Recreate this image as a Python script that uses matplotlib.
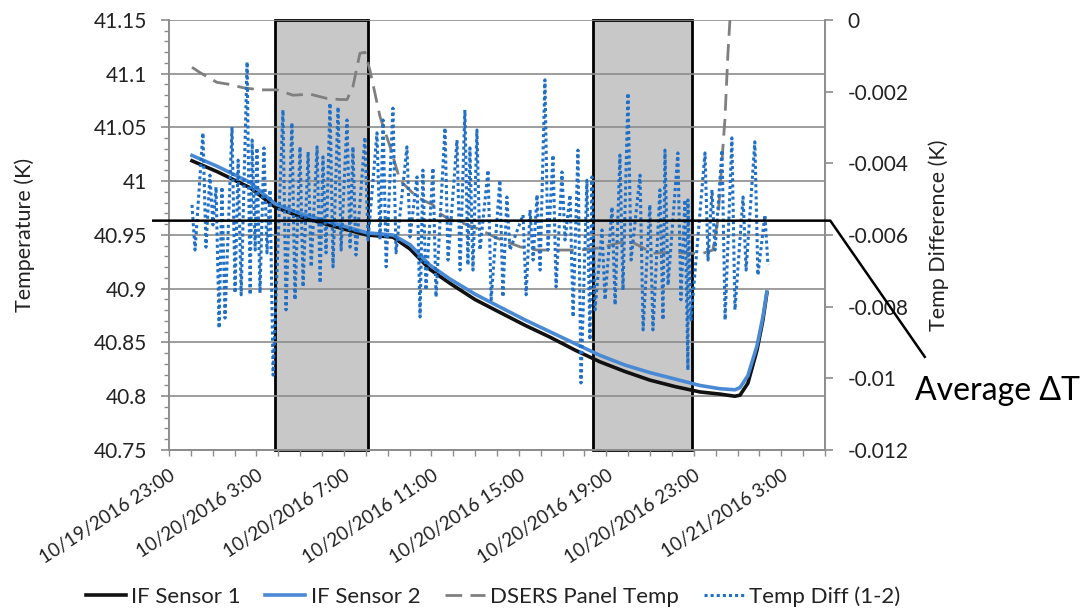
import numpy as np
import pandas as pd
import matplotlib
matplotlib.use("Agg")
import matplotlib.pyplot as plt
import matplotlib.dates as mdates
import matplotlib.ticker as mticker
import matplotlib.transforms as mtransforms

plt.rcParams['font.family'] = ['Lato', 'DejaVu Sans']

t0 = pd.Timestamp("2016-10-19 23:00")

# IF sensors (hours after 10/19/2016 23:00, K)
sensor_hours = [1.05, 2.19, 3.70, 4.85, 5.99, 7.36, 9.05, 10.24, 11.02, 11.93, 12.85, 13.99,
                15.13, 16.28, 17.42, 18.56, 19.71, 20.85, 21.99, 23.14, 24.28, 25.19, 25.88,
                26.11, 26.47, 26.89, 27.16, 27.34]
sensor1 = [41.019, 41.009, 40.994, 40.976, 40.967, 40.959, 40.950, 40.948, 40.937, 40.918,
           40.905, 40.890, 40.878, 40.866, 40.855, 40.843, 40.832, 40.823, 40.815, 40.809,
           40.804, 40.802, 40.800, 40.801, 40.812, 40.843, 40.871, 40.896]
sensor2 = [41.024, 41.014, 40.999, 40.979, 40.970, 40.962, 40.952, 40.950, 40.941, 40.922,
           40.909, 40.895, 40.883, 40.871, 40.860, 40.849, 40.838, 40.829, 40.822, 40.816,
           40.810, 40.807, 40.806, 40.808, 40.819, 40.847, 40.874, 40.897]

# DSERS panel temperature
dsers_hours = [1.05, 1.42, 2.19, 2.79, 3.38, 4.16, 4.94, 5.67, 6.45, 7.22, 7.82, 8.14, 8.41,
               8.73, 8.96, 9.19, 9.65, 10.11, 10.56, 11.34, 12.07, 12.39, 12.85, 13.44, 14.22,
               15.00, 16.05, 16.83, 17.88, 18.79, 19.71, 20.62, 21.22, 22.13, 23.05, 23.69,
               24.42, 24.87, 25.10, 25.29, 25.42, 25.56, 25.74]
dsers = [41.106, 41.101, 41.092, 41.090, 41.087, 41.085, 41.085, 41.080, 41.081, 41.077,
         41.076, 41.076, 41.088, 41.119, 41.120, 41.103, 41.060, 41.032, 41.001, 40.985,
         40.978, 40.970, 40.964, 40.961, 40.955, 40.947, 40.939, 40.936, 40.936, 40.936,
         40.938, 40.943, 40.943, 40.933, 40.934, 40.933, 40.933, 40.936, 40.964, 41.020,
         41.057, 41.119, 41.180]

# Temp Diff (1-2): spikes, top and bottom of each
spike_hours = [1.05, 1.55, 1.87, 2.15, 2.42, 2.88, 3.16, 3.57, 3.80, 4.02,
               4.34, 4.62, 5.21, 5.62, 5.99, 6.36, 6.77, 7.04, 7.36, 7.73,
               8.14, 8.41, 8.96, 9.51, 9.79, 10.24, 10.88, 11.34, 11.61, 12.07,
               12.62, 13.17, 13.53, 13.76, 14.08, 14.59, 15.13, 15.45, 16.19, 16.51,
               16.83, 17.19, 17.56, 17.97, 18.34, 18.70, 19.11, 19.34, 19.80, 20.26,
               20.62, 20.99, 21.54, 21.99, 22.45, 22.68, 23.27, 23.59, 23.73, 24.51,
               24.83, 25.29, 25.74, 26.25, 26.79, 27.25]
spike_top = [-0.00516, -0.00315, -0.00433, -0.00466, -0.00466, -0.00299, -0.00391, -0.00117, -0.00335, -0.00357,
             -0.00357, -0.00474, -0.00251, -0.00287, -0.00354, -0.00368, -0.00354, -0.00382, -0.00232, -0.00243,
             -0.00279, -0.00354, -0.00327, -0.00315, -0.00279, -0.00246, -0.00354, -0.00438, -0.00419, -0.00413,
             -0.00301, -0.00335, -0.00251, -0.00357, -0.00307, -0.00419, -0.00447, -0.00494, -0.00544, -0.00530,
             -0.00488, -0.00167, -0.00377, -0.00424, -0.00488, -0.00363, -0.00447, -0.00438, -0.00586, -0.00522,
             -0.00377, -0.00204, -0.00433, -0.00516, -0.00474, -0.00363, -0.00371, -0.00502, -0.00502, -0.00371,
             -0.00474, -0.00363, -0.00329, -0.00494, -0.00340, -0.00544]
spike_bottom = [-0.00642, -0.00634, -0.00572, -0.00860, -0.00832, -0.00762, -0.00767, -0.00767, -0.00642, -0.00762,
                -0.00650, -0.00991, -0.00809, -0.00781, -0.00745, -0.00689, -0.00734, -0.00650, -0.00689, -0.00642,
                -0.00634, -0.00656, -0.00614, -0.00614, -0.00689, -0.00650, -0.00606, -0.00829, -0.00754, -0.00773,
                -0.00670, -0.00698, -0.00684, -0.00698, -0.00642, -0.00781, -0.00773, -0.00642, -0.00767, -0.00670,
                -0.00698, -0.00642, -0.00745, -0.00614, -0.00829, -0.01013, -0.00893, -0.00809, -0.00781, -0.00795,
                -0.00754, -0.00670, -0.00865, -0.00865, -0.00837, -0.00740, -0.00781, -0.00977, -0.00837, -0.00670,
                -0.00642, -0.00837, -0.00809, -0.00698, -0.00712, -0.00684]

shaded_hours = [(4.85, 9.1), (19.39, 23.9)]
avg_dt = -0.0056


def to_time(hours):
    return t0 + pd.to_timedelta(np.asarray(hours, dtype=float), unit="h")


diff_hours = np.ravel(np.column_stack([spike_hours, np.asarray(spike_hours) + 0.14]))
diff_vals = np.ravel(np.column_stack([spike_top, spike_bottom]))

fig = plt.figure(figsize=(10.87, 6.09), dpi=100)
ax = fig.add_axes([0.1555, 0.2611, 0.6035, 0.7061])
ax2 = ax.twinx()

for a, b in shaded_hours:
    ax.axvspan(to_time([a])[0], to_time([b])[0], facecolor="#c8c8c8", edgecolor="black",
               linewidth=2, zorder=1, clip_on=False)

l1, = ax.plot(to_time(sensor_hours), sensor1, color="#111111", lw=2.6, label="IF Sensor 1", zorder=3)
l2, = ax.plot(to_time(sensor_hours), sensor2, color="#4a8ad4", lw=2.6, label="IF Sensor 2", zorder=3)
l3, = ax.plot(to_time(dsers_hours), dsers, color="#7f7f7f", lw=2.0, ls=(0, (6, 3)),
              label="DSERS Panel Temp", zorder=2.5)
l4, = ax2.plot(to_time(diff_hours), diff_vals, color="#1f70c6", lw=2.2, ls=(0, (1, 1)),
               label="Temp Diff (1-2)", zorder=3)

ax.set_xlim(t0, t0 + pd.Timedelta(hours=30))
ax.set_ylim(40.75, 41.15)
ax2.set_ylim(-0.012, 0)

ax.yaxis.set_major_locator(mticker.MultipleLocator(0.05))
ax.yaxis.set_minor_locator(mticker.MultipleLocator(0.01))
ax.yaxis.set_major_formatter(mticker.FuncFormatter(lambda v, p: f"{v:g}"))
ax2.yaxis.set_major_locator(mticker.MultipleLocator(0.002))
ax2.yaxis.set_major_formatter(mticker.FuncFormatter(lambda v, p: "0" if abs(v) < 1e-12 else f"{v:g}"))

ax.xaxis.set_major_locator(mdates.HourLocator(byhour=[3, 7, 11, 15, 19, 23]))
ax.xaxis.set_minor_locator(mdates.HourLocator())


def fmt_date(v, p):
    d = mdates.num2date(v)
    return f"{d.month}/{d.day}/{d.year} {d.hour}:{d.minute:02d}"


ax.xaxis.set_major_formatter(mticker.FuncFormatter(fmt_date))

grey = "#8c8c8c"
ax.set_axisbelow("line")
ax.grid(axis="y", which="major", color=grey, lw=1.2)
for a in (ax, ax2):
    for s in a.spines.values():
        s.set_color(grey)
        s.set_linewidth(1.2)
    a.spines["top"].set_visible(False)

ax.tick_params(axis="y", which="major", length=6, width=1.2, color=grey, pad=10,
               labelsize=15, labelcolor="#222222")
ax.tick_params(axis="y", which="minor", length=3.5, width=1.0, color=grey)
ax.tick_params(axis="x", which="both", length=4, width=1.0, color=grey, pad=8,
               labelsize=13.5, labelcolor="#222222")
ax2.tick_params(axis="y", which="major", length=6, width=1.2, color=grey, pad=10,
                labelsize=15, labelcolor="#222222")
for lab in ax.get_xticklabels():
    lab.set_rotation(33)
    lab.set_ha("right")
    lab.set_va("top")
    lab.set_rotation_mode("anchor")

ax.set_ylabel("Temperature (K)", fontsize=15.5, color="#222222")
ax.yaxis.set_label_coords(-0.205, 0.5)
ax2.set_ylabel("Temp Difference (K)", fontsize=15.5, color="#222222")
ax2.yaxis.set_label_coords(1.157, 0.5)

# average delta-T marker line and callout
tr = mtransforms.blended_transform_factory(ax2.transAxes, ax2.transData)
ax2.plot([-0.024, 1.008, 1.152], [avg_dt, avg_dt, -0.0094], color="black", lw=1.8,
         transform=tr, clip_on=False, zorder=5)
ax2.text(1.137, -0.01035, "Average ΔT", transform=tr, fontsize=23, ha="left", va="center")

fig.legend(handles=[l1, l2, l3, l4], loc="center", bbox_to_anchor=(0.4536, 0.021), ncol=4,
           frameon=False, fontsize=16, handlelength=1.8, handletextpad=0.25,
           columnspacing=1.1, labelcolor="#222222")

fig.savefig("out.png", dpi=100)
